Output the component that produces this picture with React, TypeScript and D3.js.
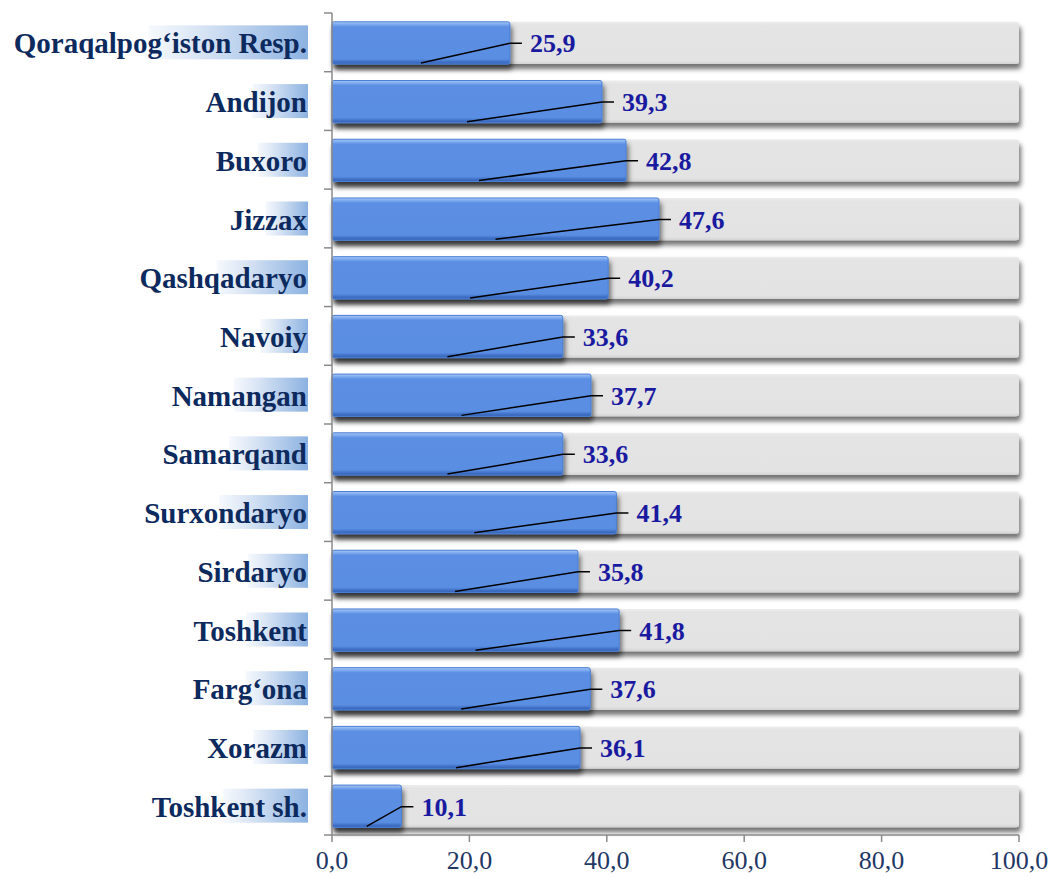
import React, { useEffect, useRef } from "react";
import * as d3 from "d3";

const categories = [
  "Qoraqalpog‘iston Resp.", "Andijon", "Buxoro", "Jizzax", "Qashqadaryo", "Navoiy",
  "Namangan", "Samarqand", "Surxondaryo", "Sirdaryo", "Toshkent", "Farg‘ona", "Xorazm", "Toshkent sh.",
];
const values = [25.9, 39.3, 42.8, 47.6, 40.2, 33.6, 37.7, 33.6, 41.4, 35.8, 41.8, 37.6, 36.1, 10.1];
const xTicks = [0, 20, 40, 60, 80, 100];

const W = 1051, H = 877;
const fmt = (v: number) => v.toFixed(1).replace(".", ",");
const SERIF = "'Liberation Serif', 'Times New Roman', serif";

export default function App() {
  const ref = useRef<SVGSVGElement>(null);
  useEffect(() => {
    const svg = d3.select(ref.current!);
    svg.selectAll("*").remove();
    const x = d3.scaleLinear().domain([0, 100]).range([332, 1019]);
    const y = d3.scaleBand<string>().domain(categories).range([13, 835]).padding(0);
    const step = y.step();
    const barY = (c: string) => y(c)! + step * 0.15;
    const barH = step * 0.72;

    const defs = svg.append("defs");
    const sh = defs.append("filter").attr("id", "sh").attr("x", "-5%").attr("y", "-30%").attr("width", "115%").attr("height", "190%");
    sh.append("feDropShadow").attr("dx", 2).attr("dy", 5).attr("stdDeviation", 2.5).attr("flood-color", "#000").attr("flood-opacity", 0.55);

    const blue = defs.append("linearGradient").attr("id", "blue").attr("x1", 0).attr("y1", 0).attr("x2", 0).attr("y2", 1);
    [["0", "#a9c8f5"], ["0.07", "#78a6ee"], ["0.12", "#5b8fe3"], ["0.88", "#5a8ee2"], ["0.95", "#3f6fc4"], ["1", "#3464b8"]].forEach(([o, c]) =>
      blue.append("stop").attr("offset", o).attr("stop-color", c));
    const grey = defs.append("linearGradient").attr("id", "grey").attr("x1", 0).attr("y1", 0).attr("x2", 0).attr("y2", 1);
    [["0", "#ececec"], ["0.08", "#e4e4e4"], ["0.92", "#e3e3e3"], ["1", "#d2d2d2"]].forEach(([o, c]) =>
      grey.append("stop").attr("offset", o).attr("stop-color", c));
    const lab = defs.append("linearGradient").attr("id", "lab").attr("x1", 0).attr("y1", 0).attr("x2", 1).attr("y2", 0);
    [["0", "#f6f9fd"], ["0.3", "#dbe6f5"], ["1", "#8cb2e1"]].forEach(([o, c]) =>
      lab.append("stop").attr("offset", o).attr("stop-color", c));

    const g = svg.append("g");
    g.selectAll("rect.bg").data(categories).join("rect")
      .attr("x", x(0)).attr("y", barY).attr("width", x(100) - x(0)).attr("height", barH)
      .attr("rx", 3).attr("fill", "url(#grey)").attr("filter", "url(#sh)");
    g.selectAll("rect.val").data(categories).join("rect")
      .attr("x", x(0)).attr("y", barY).attr("width", (_, i) => x(values[i]) - x(0)).attr("height", barH)
      .attr("rx", 2).attr("fill", "url(#blue)").attr("stroke", "#4a7fd6").attr("stroke-width", 1).attr("filter", "url(#sh)");

    const ax = svg.append("g").attr("stroke", "#8a8a8a").attr("stroke-width", 1.5).attr("fill", "none");
    ax.append("line").attr("x1", x(0)).attr("x2", x(0)).attr("y1", 13).attr("y2", 835);
    ax.append("line").attr("x1", x(0)).attr("x2", x(100)).attr("y1", 835).attr("y2", 835);
    const bounds = categories.map((c) => y(c)!).concat([835]);
    ax.selectAll("line.cy").data(bounds).join("line")
      .attr("x1", x(0) - 8).attr("x2", x(0)).attr("y1", (d) => d).attr("y2", (d) => d);
    ax.selectAll("line.tx").data(xTicks).join("line")
      .attr("x1", (d) => x(d)).attr("x2", (d) => x(d)).attr("y1", 835).attr("y2", 842);

    svg.append("g").selectAll("text").data(xTicks).join("text")
      .attr("x", (d) => x(d)).attr("y", 869).attr("text-anchor", "middle")
      .attr("font-family", SERIF).attr("font-size", 26)
      .attr("fill", "#1f3864").text((d) => fmt(d));

    const ll = svg.append("g");
    categories.forEach((c, i) => {
      const v = values[i];
      const cy = y(c)! + step / 2;
      const x0 = x(v / 2), y0 = barY(c) + barH - 1;
      const x1 = x(v), y1 = cy + 1;
      ll.append("polyline").attr("points", `${x0},${y0} ${x1},${y1} ${x1 + 12},${y1}`)
        .attr("fill", "none").attr("stroke", "#000").attr("stroke-width", 1.5);
      ll.append("text").attr("x", x1 + 20).attr("y", cy + 10)
        .attr("font-family", SERIF).attr("font-weight", "bold")
        .attr("font-size", 26).attr("fill", "#1a1aa0").text(fmt(v));
    });

    const cl = svg.append("g");
    categories.forEach((c) => {
      const cy = y(c)! + step / 2;
      const bgR = cl.append("rect");
      const t = cl.append("text").attr("x", 307).attr("y", cy + 11).attr("text-anchor", "end")
        .attr("font-family", SERIF).attr("font-weight", "bold")
        .attr("font-size", 29).attr("fill", "#0d2a5e").text(c);
      const bb = (t.node() as SVGTextElement).getBBox();
      const x0 = bb.x + bb.width * 0.46;
      bgR.attr("x", x0).attr("y", cy - 17).attr("width", 308 - x0).attr("height", 34).attr("fill", "url(#lab)");
    });
  }, []);
  return <svg ref={ref} width={W} height={H} style={{ position: "absolute", left: 0, top: 0 }} />;
}
